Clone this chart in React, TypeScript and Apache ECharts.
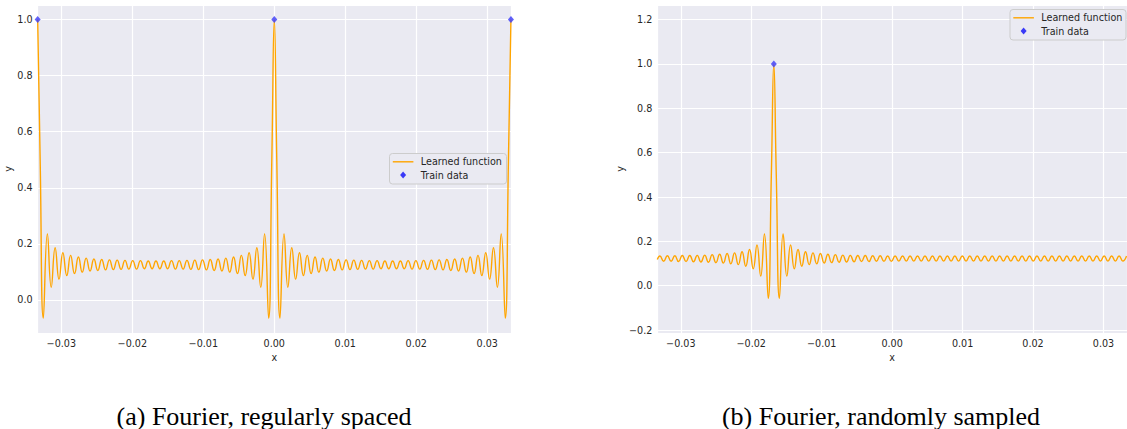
import React, { useEffect, useRef } from "react";
import * as echarts from "echarts";

// (a) Fourier, regularly spaced — learned function (extrema)
const regularCurve: [number, number][] = [
  [-0.03333, 1.0], [-0.03298, 0.5], [-0.03253, -0.065], [-0.03196, 0.235], [-0.03142, 0.045],
  [-0.03087, 0.186], [-0.03032, 0.074], [-0.02978, 0.168], [-0.02923, 0.087], [-0.02869, 0.159],
  [-0.02814, 0.094], [-0.02759, 0.153], [-0.02705, 0.099], [-0.0265, 0.149], [-0.02595, 0.103],
  [-0.02541, 0.146], [-0.02486, 0.105], [-0.02431, 0.144], [-0.02377, 0.107], [-0.02322, 0.143],
  [-0.02267, 0.108], [-0.02213, 0.142], [-0.02158, 0.109], [-0.02103, 0.141], [-0.02049, 0.11],
  [-0.01994, 0.14], [-0.0194, 0.11], [-0.01885, 0.14], [-0.0183, 0.111], [-0.01776, 0.139],
  [-0.01721, 0.111], [-0.01667, 0.139], [-0.01612, 0.111], [-0.01557, 0.139], [-0.01503, 0.111],
  [-0.01448, 0.14], [-0.01393, 0.11], [-0.01339, 0.14], [-0.01284, 0.11], [-0.0123, 0.141],
  [-0.01175, 0.109], [-0.0112, 0.142], [-0.01066, 0.108], [-0.01011, 0.143], [-0.00956, 0.107],
  [-0.00902, 0.144], [-0.00847, 0.105], [-0.00792, 0.146], [-0.00738, 0.103], [-0.00683, 0.149],
  [-0.00628, 0.099], [-0.00574, 0.153], [-0.00519, 0.094], [-0.00464, 0.159], [-0.0041, 0.087],
  [-0.00355, 0.168], [-0.00301, 0.074], [-0.00246, 0.186], [-0.00191, 0.045], [-0.00137, 0.235],
  [-0.0008, -0.065], [-0.00035, 0.5], [0.0, 1.0], [0.00035, 0.5], [0.0008, -0.065],
  [0.00137, 0.235], [0.00191, 0.045], [0.00246, 0.186], [0.00301, 0.074], [0.00355, 0.168],
  [0.0041, 0.087], [0.00464, 0.159], [0.00519, 0.094], [0.00574, 0.153], [0.00628, 0.099],
  [0.00683, 0.149], [0.00738, 0.103], [0.00792, 0.146], [0.00847, 0.105], [0.00902, 0.144],
  [0.00956, 0.107], [0.01011, 0.143], [0.01066, 0.108], [0.0112, 0.142], [0.01175, 0.109],
  [0.0123, 0.141], [0.01284, 0.11], [0.01339, 0.14], [0.01393, 0.11], [0.01448, 0.14],
  [0.01503, 0.111], [0.01557, 0.139], [0.01612, 0.111], [0.01667, 0.139], [0.01721, 0.111],
  [0.01776, 0.139], [0.0183, 0.111], [0.01885, 0.14], [0.0194, 0.11], [0.01994, 0.14],
  [0.02049, 0.11], [0.02103, 0.141], [0.02158, 0.109], [0.02213, 0.142], [0.02267, 0.108],
  [0.02322, 0.143], [0.02377, 0.107], [0.02431, 0.144], [0.02486, 0.105], [0.02541, 0.146],
  [0.02595, 0.103], [0.0265, 0.149], [0.02705, 0.099], [0.02759, 0.153], [0.02814, 0.094],
  [0.02869, 0.159], [0.02923, 0.087], [0.02978, 0.168], [0.03032, 0.074], [0.03087, 0.186],
  [0.03142, 0.045], [0.03196, 0.235], [0.03253, -0.065], [0.03298, 0.5], [0.03333, 1.0],
];
const regularTrain: [number, number][] = [[-0.03333, 1.0], [0.0, 1.0], [0.03333, 1.0]];

// (b) Fourier, randomly sampled — learned function
const randomCurve: [number, number][] = [
  [-0.03334, 0.118], [-0.03297, 0.134], [-0.03244, 0.11], [-0.03191, 0.135], [-0.03138, 0.11],
  [-0.03085, 0.135], [-0.03032, 0.109], [-0.02979, 0.136], [-0.02926, 0.109], [-0.02873, 0.136],
  [-0.0282, 0.108], [-0.02767, 0.137], [-0.02714, 0.107], [-0.02661, 0.138], [-0.02608, 0.106],
  [-0.02555, 0.14], [-0.02502, 0.104], [-0.02449, 0.142], [-0.02396, 0.102], [-0.02343, 0.145],
  [-0.0229, 0.099], [-0.02237, 0.148], [-0.02184, 0.095], [-0.02131, 0.153], [-0.02078, 0.088],
  [-0.02025, 0.163], [-0.01972, 0.076], [-0.01919, 0.184], [-0.01866, 0.043], [-0.01813, 0.233],
  [-0.0176, -0.057], [-0.01715, 0.5], [-0.0168, 1.0], [-0.01645, 0.5], [-0.016, -0.057],
  [-0.01548, 0.233], [-0.01495, 0.043], [-0.01442, 0.184], [-0.01389, 0.076], [-0.01336, 0.163],
  [-0.01283, 0.088], [-0.0123, 0.153], [-0.01177, 0.095], [-0.01124, 0.148], [-0.01071, 0.099],
  [-0.01018, 0.145], [-0.00965, 0.102], [-0.00912, 0.142], [-0.00859, 0.104], [-0.00806, 0.14],
  [-0.00753, 0.106], [-0.007, 0.138], [-0.00647, 0.107], [-0.00594, 0.137], [-0.00541, 0.108],
  [-0.00488, 0.136], [-0.00435, 0.109], [-0.00382, 0.136], [-0.00329, 0.109], [-0.00276, 0.135],
  [-0.00223, 0.11], [-0.0017, 0.135], [-0.00117, 0.11], [-0.00064, 0.134], [-0.00011, 0.11],
  [0.00042, 0.134], [0.00095, 0.111], [0.00148, 0.134], [0.00201, 0.111], [0.00254, 0.134],
  [0.00307, 0.111], [0.0036, 0.134], [0.00413, 0.111], [0.00466, 0.134], [0.00519, 0.111],
  [0.00572, 0.134], [0.00625, 0.111], [0.00678, 0.134], [0.00731, 0.111], [0.00784, 0.134],
  [0.00837, 0.111], [0.0089, 0.134], [0.00943, 0.111], [0.00996, 0.134], [0.01049, 0.111],
  [0.01102, 0.134], [0.01155, 0.111], [0.01208, 0.134], [0.01261, 0.111], [0.01314, 0.134],
  [0.01367, 0.111], [0.0142, 0.134], [0.01473, 0.111], [0.01526, 0.134], [0.01579, 0.111],
  [0.01632, 0.134], [0.01685, 0.111], [0.01738, 0.134], [0.01791, 0.111], [0.01844, 0.134],
  [0.01897, 0.111], [0.0195, 0.134], [0.02003, 0.111], [0.02056, 0.134], [0.02109, 0.111],
  [0.02162, 0.134], [0.02215, 0.111], [0.02268, 0.134], [0.02321, 0.111], [0.02374, 0.134],
  [0.02427, 0.111], [0.0248, 0.134], [0.02533, 0.111], [0.02586, 0.134], [0.02639, 0.111],
  [0.02692, 0.134], [0.02745, 0.111], [0.02798, 0.134], [0.02851, 0.111], [0.02904, 0.134],
  [0.02957, 0.111], [0.0301, 0.134], [0.03063, 0.111], [0.03116, 0.134], [0.03169, 0.111],
  [0.03222, 0.134], [0.03275, 0.111], [0.03328, 0.134],
];
const randomTrain: [number, number][] = [[-0.0168, 1.0]];

const captions = ["(a) Fourier, regularly spaced", "(b) Fourier, randomly sampled"];
const legendLabels = ["Learned function", "Train data"];

const ORANGE = "#ffa500";
const BLUE = "#3a3af7";
const TEXT = "#262626";
const BG = "#eaeaf2";

const fmt = (digits: number) => (v: number) =>
  (v < -1e-9 ? "\u2212" : "") + Math.abs(v).toFixed(digits);

const labelStyle = {
  color: TEXT,
  fontSize: 9.6,
  fontFamily: "DejaVu Sans",
  showMinLabel: false,
  showMaxLabel: false,
};

function makeXAxis(gridIndex: number) {
  return {
    type: "value",
    gridIndex,
    min: -0.03334,
    max: 0.03334,
    splitNumber: 6,
    axisLine: { show: false },
    axisTick: { show: false },
    axisLabel: { ...labelStyle, margin: 5, formatter: fmt(2) },
    splitLine: { show: true, lineStyle: { color: "#ffffff", width: 1.2 } },
    name: "x",
    nameLocation: "middle",
    nameGap: 15,
    nameTextStyle: { color: TEXT, fontSize: 9.6, fontFamily: "DejaVu Sans" },
  };
}

function makeYAxis(gridIndex: number, min: number, max: number, split: number, gap: number) {
  return {
    type: "value",
    gridIndex,
    min,
    max,
    splitNumber: split,
    axisLine: { show: false },
    axisTick: { show: false },
    axisLabel: { ...labelStyle, margin: 5, formatter: fmt(1) },
    splitLine: { show: true, lineStyle: { color: "#ffffff", width: 1.2 } },
    name: "y",
    nameLocation: "middle",
    nameGap: gap,
    nameTextStyle: { color: TEXT, fontSize: 9.6, fontFamily: "DejaVu Sans" },
  };
}

function legendGraphic(x: number, y: number, w: number, h: number) {
  const lineY = y + 8.3;
  const dotY = y + 21.6;
  const sx = x + 3.3;
  return [
    {
      type: "rect",
      shape: { x, y, width: w, height: h, r: 3 },
      style: { fill: BG, stroke: "#cccccc", lineWidth: 1 },
      z: 10,
    },
    {
      type: "line",
      shape: { x1: sx, y1: lineY, x2: sx + 20.6, y2: lineY },
      style: { stroke: ORANGE, lineWidth: 1.4 },
      z: 11,
    },
    {
      type: "polygon",
      shape: {
        points: [
          [sx + 10.3, dotY - 3.5],
          [sx + 13.3, dotY],
          [sx + 10.3, dotY + 3.5],
          [sx + 7.3, dotY],
        ],
      },
      style: { fill: BLUE },
      z: 11,
    },
    {
      type: "text",
      x: sx + 28,
      y: lineY,
      style: {
        text: legendLabels[0],
        fill: TEXT,
        fontSize: 9.6,
        fontFamily: "DejaVu Sans",
        verticalAlign: "middle",
        align: "left",
      },
      z: 11,
    },
    {
      type: "text",
      x: sx + 28,
      y: dotY,
      style: {
        text: legendLabels[1],
        fill: TEXT,
        fontSize: 9.6,
        fontFamily: "DejaVu Sans",
        verticalAlign: "middle",
        align: "left",
      },
      z: 11,
    },
  ];
}

export default function App() {
  const ref = useRef<HTMLDivElement>(null);

  useEffect(() => {
    if (!ref.current) return;
    const chart = echarts.init(ref.current, undefined, { renderer: "svg" });
    const lineSeries = (gridIndex: number, data: [number, number][]) => ({
      type: "line",
      xAxisIndex: gridIndex,
      yAxisIndex: gridIndex,
      data,
      smooth: 0.5,
      showSymbol: false,
      lineStyle: { color: ORANGE, width: 1.4 },
      z: 2,
    });
    const scatterSeries = (gridIndex: number, data: [number, number][]) => ({
      type: "scatter",
      xAxisIndex: gridIndex,
      yAxisIndex: gridIndex,
      data,
      symbol: "diamond",
      symbolSize: [6, 7],
      itemStyle: { color: BLUE },
      z: 3,
    });
    chart.setOption({
      animation: false,
      backgroundColor: "#ffffff",
      grid: [
        { left: 37.6, top: 5, width: 473.4, height: 328, show: true, backgroundColor: BG, borderWidth: 0 },
        { left: 657.3, top: 5, width: 473.4, height: 328, show: true, backgroundColor: BG, borderWidth: 0 },
      ],
      xAxis: [makeXAxis(0), makeXAxis(1)],
      yAxis: [makeYAxis(0, -0.118, 1.052, 6, 23), makeYAxis(1, -0.2133, 1.266, 7, 31)],
      series: [
        lineSeries(0, regularCurve),
        scatterSeries(0, regularTrain),
        lineSeries(1, randomCurve),
        scatterSeries(1, randomTrain),
      ],
      graphic: [
        ...legendGraphic(389.5, 153.5, 117, 30.5),
        ...legendGraphic(1010, 9.5, 116, 30.5),
        {
          type: "text",
          x: 264,
          y: 416,
          style: {
            text: captions[0],
            fill: "#000",
            fontSize: 26,
            fontFamily: "Liberation Serif",
            align: "center",
            verticalAlign: "middle",
          },
        },
        {
          type: "text",
          x: 881,
          y: 416,
          style: {
            text: captions[1],
            fill: "#000",
            fontSize: 26,
            fontFamily: "Liberation Serif",
            align: "center",
            verticalAlign: "middle",
          },
        },
      ],
    });
    return () => chart.dispose();
  }, []);

  return (
    <div
      ref={ref}
      style={{ position: "fixed", left: 0, top: 0, width: 1127, height: 429, overflow: "hidden" }}
    />
  );
}
